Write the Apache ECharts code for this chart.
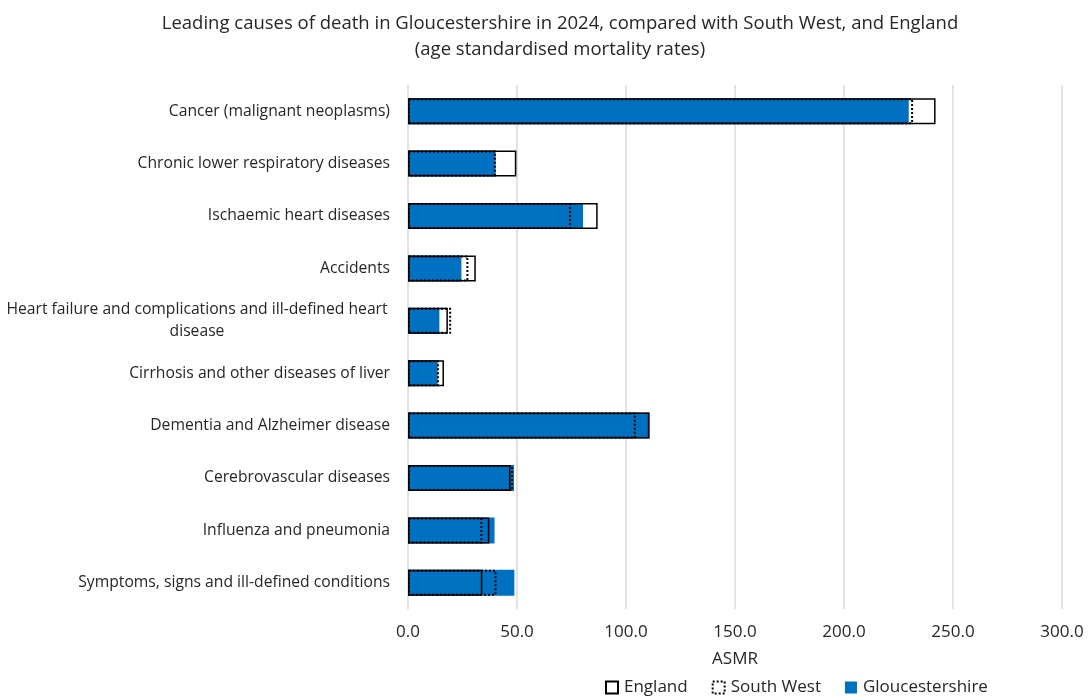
<!DOCTYPE html>
<html>
<head>
<meta charset="utf-8">
<script src="https://cdn.jsdelivr.net/npm/echarts@6/dist/echarts.min.js"></script>
<style>
  html, body { margin: 0; padding: 0; background: #fff; }
  #chart { width: 1089px; height: 697px; }
</style>
</head>
<body>
<div id="chart"></div>
<script>
const categories = [
  'Cancer (malignant neoplasms)',
  'Chronic lower respiratory diseases',
  'Ischaemic heart diseases',
  'Accidents',
  'Heart failure and complications and ill-defined heart\ndisease',
  'Cirrhosis and other diseases of liver',
  'Dementia and Alzheimer disease',
  'Cerebrovascular diseases',
  'Influenza and pneumonia',
  'Symptoms, signs and ill-defined conditions'
];
const england = [242.0, 49.7, 87.0, 31.1, 18.3, 16.5, 110.7, 47.0, 37.3, 34.1];
const southWest = [231.7, 40.3, 74.8, 27.7, 19.8, 14.2, 104.5, 48.2, 34.1, 40.6];
const gloucestershire = [229.7, 40.2, 80.3, 24.5, 14.4, 13.6, 110.9, 48.6, 39.7, 48.8];
const xTicks = { min: 0, max: 300, interval: 50 };

const FONT = "'Open Sans', 'Noto Sans', sans-serif";
const TEXT = '#262626';

const chart = echarts.init(document.getElementById('chart'));
chart.setOption({
  animation: false,
  textStyle: { fontFamily: FONT, color: TEXT },
  title: {
    text: 'Leading causes of death in Gloucestershire in 2024, compared with South West, and England\n(age standardised mortality rates)',
    left: 555,
    textAlign: 'center',
    top: 6,
    textStyle: { fontFamily: FONT, fontSize: 18.5, fontWeight: 'normal', color: TEXT, lineHeight: 26 }
  },
  legend: {
    data: [
      { name: 'England' },
      { name: 'South West', itemStyle: { borderType: 'dotted', borderWidth: 2, borderColor: '#000' } },
      { name: 'Gloucestershire' }
    ],
    bottom: -4,
    left: 600,
    itemWidth: 12,
    itemHeight: 12,
    itemGap: 24,
    icon: 'rect',
    textStyle: { fontFamily: FONT, fontSize: 17, color: TEXT, padding: [0, 0, 0, 1] }
  },
  grid: { left: 408, right: 27, top: 85, bottom: 88, containLabel: false },
  xAxis: {
    type: 'value',
    min: xTicks.min,
    max: xTicks.max,
    interval: xTicks.interval,
    name: 'ASMR',
    nameLocation: 'middle',
    nameGap: 42,
    nameTextStyle: { fontFamily: FONT, fontSize: 17, color: TEXT },
    axisLine: { show: false },
    axisTick: { show: false },
    axisLabel: {
      margin: 15,
      fontSize: 17,
      color: TEXT,
      formatter: v => v.toFixed(1)
    },
    splitLine: { show: true, lineStyle: { color: '#d9d9d9', width: 1.5 } }
  },
  yAxis: {
    type: 'category',
    inverse: true,
    data: categories,
    axisLine: { show: false },
    axisTick: { show: false },
    axisLabel: {
      margin: 18,
      fontSize: 15.7,
      color: TEXT,
      formatter: v => v.indexOf('\n') >= 0 ? '{w|' + v + '}' : v,
      rich: {
        w: { width: 386, align: 'center', fontSize: 15.7, color: TEXT, lineHeight: 22, fontFamily: FONT }
      }
    }
  },
  series: [
    {
      name: 'Gloucestershire',
      type: 'bar',
      data: gloucestershire,
      barWidth: 26,
      barGap: '-100%',
      itemStyle: { color: '#0070C0' },
      z: 1
    },
    {
      name: 'England',
      type: 'bar',
      data: england,
      barWidth: 26,
      barGap: '-100%',
      itemStyle: { color: 'rgba(255,255,255,0)', borderColor: '#000', borderWidth: 1.5 },
      z: 2
    },
    {
      name: 'South West',
      type: 'bar',
      data: southWest,
      barWidth: 26,
      barGap: '-100%',
      itemStyle: { color: 'rgba(255,255,255,0)', borderColor: '#000', borderWidth: 2, borderType: [2, 2] },
      z: 3
    }
  ]
});
</script>
</body>
</html>
